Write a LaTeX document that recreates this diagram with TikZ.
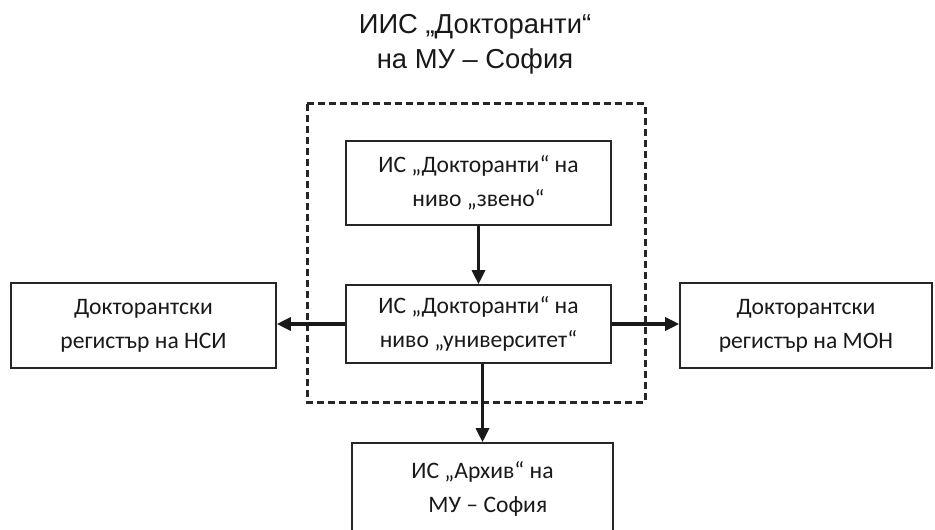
\documentclass[tikz,border=0pt]{standalone}
\usepackage{fontspec}
\setmainfont{Carlito}
\newfontfamily\titlefont{Liberation Sans}
\usetikzlibrary{arrows.meta}

\tikzset{
	box/.style={shape=rectangle,draw=black!85,line width=0.8pt,align=center,inner sep=0pt,
		font=\fontsize{11.8}{17}\selectfont,text=black!90},
	frame/.style={draw=black!85,line width=1.5pt,dash pattern=on 3.5pt off 2pt},
	flow/.style={draw=black!90,line width=1.6pt,-{Triangle[length=7pt,width=6.5pt]}}
}

\begin{document}
\begin{tikzpicture}[x=0.5pt,y=-0.5pt]
	\useasboundingbox (0,0) rectangle (935,529);
	
	\node[font=\titlefont\fontsize{13.7}{17.5}\selectfont,align=center,text=black!90] (title) at (475, 44) {ИИС „Докторанти“\\на МУ – София};
	
	\draw[frame] (307, 104) rectangle (645, 402);
	
	\node[box,minimum width=132.5pt,minimum height=42pt] (zveno) at (478.5, 183) {ИС „Докторанти“ на\\ниво „звено“};
	\node[box,minimum width=132.5pt,minimum height=39pt] (univ) at (478.5, 324) {ИС „Докторанти“ на\\ниво „университет“};
	\node[box,minimum width=132.5pt,minimum height=42.5pt] (nsi) at (143.5, 325.5) {Докторантски\\регистър на НСИ};
	\node[box,minimum width=126pt,minimum height=42.5pt] (mon) at (806, 325.5) {Докторантски\\регистър на МОН};
	\node[box,minimum width=130.5pt,minimum height=46pt] (arhiv) at (482.5, 489) {ИС „Архив“ на\\\ \ МУ – София};
	
	\path (zveno) edge[flow] (univ);
	\path (univ.west) edge[flow] (univ.west -| nsi.east);
	\path (univ.east) edge[flow] (univ.east -| mon.west);
	\path (univ.south -| arhiv.north) edge[flow] (arhiv.north);
\end{tikzpicture}
\end{document}
